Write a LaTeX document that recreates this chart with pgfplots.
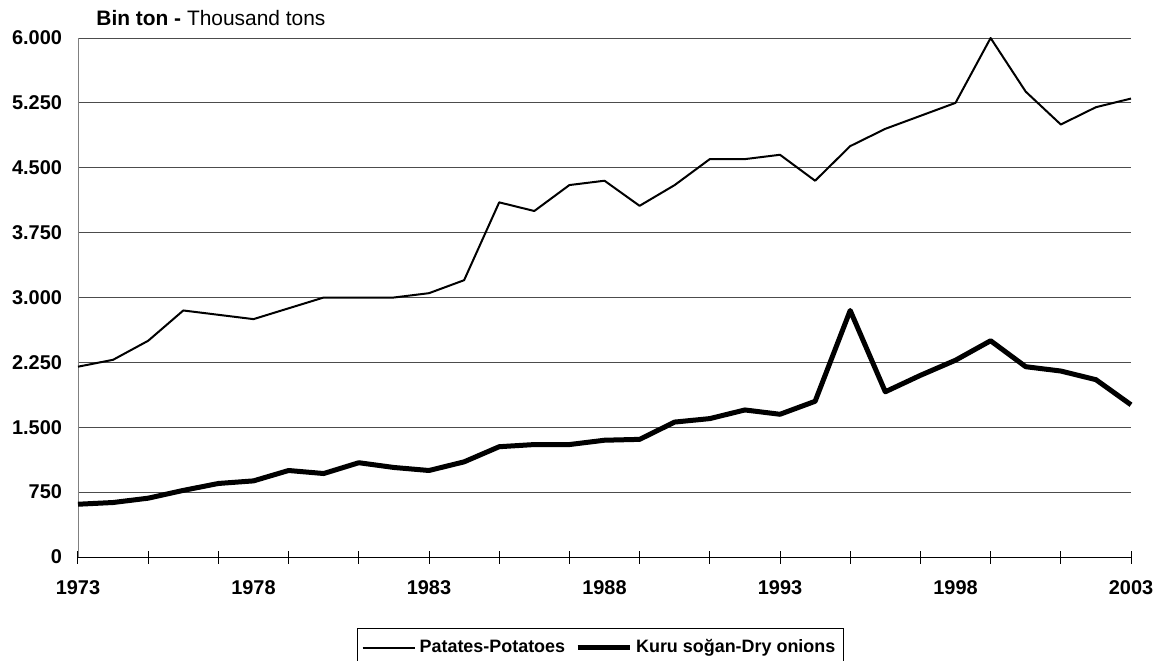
\documentclass[border=0pt]{standalone}
\usepackage{fontspec}
\setmainfont{Liberation Sans}
\usepackage{pgfplots}
\pgfplotsset{compat=1.18}

\begin{document}
\begin{tikzpicture}
\begin{axis}[
    scale only axis,
    width=526.5bp, height=259.5bp,
    xmin=1973, xmax=2003, ymin=0, ymax=6000,
    clip=false,
    axis x line=bottom, axis y line=left,
    axis line style={-},
    y axis line style={black!50},
    x axis line style={black, line width=0.5bp},
    xtick={1973,1978,...,2003},
    minor xtick={1973,1975,...,2003},
    ytick={0,750,...,6000},
    major tick length=0pt,
    minor tick length=6.5bp,
    tick align=center,
    every minor tick/.append style={black, line width=0.5bp},
    ymajorgrids,
    major grid style={black!70, line width=0.5bp},
    font=\fontsize{10}{12}\selectfont,
    /pgf/number format/assume math mode=true,
    xticklabel style={font=\fontsize{10}{12}\selectfont\bfseries, yshift=-8.5bp},
    yticklabel style={font=\fontsize{10}{12}\selectfont\bfseries, xshift=-4.5bp,
        /pgf/number format/.cd, 1000 sep={.}},
    xticklabel={\pgfmathprintnumber[1000 sep={}]{\tick}},
    legend columns=2,
    legend style={at={(0.5,0)}, anchor=north, yshift=-35.5bp, xshift=-2bp,
        draw=black, line width=0.5bp, font=\fontsize{9}{11}\selectfont\bfseries,
        inner xsep=2bp, inner ysep=3.5bp,
        /tikz/every even column/.append style={column sep=3bp}},
    legend image code/.code={\draw[#1] (0bp,0bp) -- (26bp,0bp);},
]
\addplot[black, line width=1bp, line join=round] coordinates {
(1973,2200) (1974,2280) (1975,2500) (1976,2850) (1977,2800) (1978,2750)
(1979,2875) (1980,3000) (1981,3000) (1982,3000) (1983,3050) (1984,3200)
(1985,4100) (1986,4000) (1987,4300) (1988,4350) (1989,4060) (1990,4300)
(1991,4600) (1992,4600) (1993,4650) (1994,4350) (1995,4750) (1996,4950)
(1997,5100) (1998,5250) (1999,6000) (2000,5380) (2001,5000) (2002,5200)
(2003,5300)};
\addlegendentry{Patates-Potatoes}
\addplot[black, line width=2.5bp, line join=round] coordinates {
(1973,610) (1974,630) (1975,680) (1976,770) (1977,850) (1978,880)
(1979,1000) (1980,965) (1981,1090) (1982,1035) (1983,1000) (1984,1100)
(1985,1275) (1986,1300) (1987,1300) (1988,1350) (1989,1360) (1990,1560)
(1991,1600) (1992,1700) (1993,1650) (1994,1800) (1995,2850) (1996,1910)
(1997,2100) (1998,2275) (1999,2500) (2000,2200) (2001,2150) (2002,2050)
(2003,1760)};
\addlegendentry{Kuru soğan-Dry onions}
\node[anchor=base west, inner sep=0pt, font=\fontsize{10.5}{12}\selectfont]
    at (rel axis cs:0,1) [xshift=9bp, yshift=6.5bp]
    {\textbf{Bin ton -} Thousand tons};
\coordinate (o) at (rel axis cs:0,0);
\end{axis}
\pgfresetboundingbox
\path[use as bounding box] (o) ++(-39bp,278.5bp) rectangle ++(584bp,-330.5bp);
\end{tikzpicture}
\end{document}
